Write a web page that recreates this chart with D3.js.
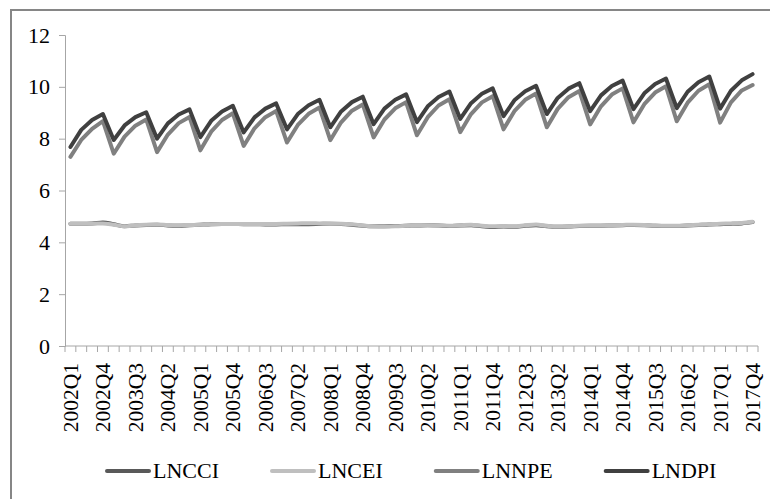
<!DOCTYPE html>
<html>
<head>
<meta charset="utf-8">
<script src="https://cdn.jsdelivr.net/npm/d3@7"></script>
<style>
  body { margin: 0; background: #fff; }
  text { font-family: "Liberation Serif", "Times New Roman", serif; fill: #000; }
</style>
</head>
<body>
<svg id="chart" width="770" height="499"></svg>
<script>
// data
const years = [2002, 2003, 2004, 2005, 2006, 2007, 2008, 2009, 2010, 2011, 2012, 2013, 2014, 2015, 2016, 2017];
const quarters = ["Q1", "Q2", "Q3", "Q4"];
const categories = years.flatMap(y => quarters.map(q => y + q));

const yTicks = [0, 2, 4, 6, 8, 10, 12];

const LNCCI = [
  4.72, 4.72, 4.73, 4.77,  4.70, 4.62, 4.65, 4.67,  4.68, 4.65, 4.64, 4.66,  4.68, 4.70, 4.71, 4.71,
  4.70, 4.70, 4.69, 4.69,  4.70, 4.70, 4.70, 4.71,  4.72, 4.71, 4.68, 4.64,  4.62, 4.62, 4.63, 4.64,
  4.65, 4.66, 4.65, 4.63,  4.65, 4.66, 4.62, 4.59,  4.61, 4.60, 4.64, 4.66,  4.62, 4.60, 4.61, 4.63,
  4.64, 4.64, 4.65, 4.66,  4.67, 4.66, 4.64, 4.63,  4.63, 4.65, 4.67, 4.69,  4.70, 4.71, 4.73, 4.78
];
const LNCEI = [
  4.72, 4.72, 4.72, 4.73,  4.68, 4.62, 4.66, 4.68,  4.69, 4.67, 4.66, 4.67,  4.68, 4.70, 4.71, 4.71,
  4.71, 4.71, 4.71, 4.71,  4.72, 4.73, 4.74, 4.73,  4.72, 4.72, 4.70, 4.65,  4.62, 4.61, 4.62, 4.64,
  4.66, 4.66, 4.65, 4.64,  4.66, 4.68, 4.64, 4.62,  4.63, 4.62, 4.66, 4.69,  4.64, 4.61, 4.62, 4.64,
  4.65, 4.65, 4.66, 4.67,  4.68, 4.67, 4.65, 4.64,  4.64, 4.66, 4.68, 4.70,  4.72, 4.73, 4.75, 4.79
];
const LNNPE = [
  7.30, 7.95, 8.38, 8.68,  7.42, 8.08, 8.50, 8.74,  7.48, 8.16, 8.60, 8.84,  7.55, 8.27, 8.72, 8.98,
  7.72, 8.40, 8.83, 9.07,  7.85, 8.53, 8.96, 9.20,  7.94, 8.63, 9.08, 9.32,  8.05, 8.74, 9.17, 9.41,
  8.13, 8.83, 9.28, 9.52,  8.25, 8.95, 9.40, 9.64,  8.36, 9.06, 9.50, 9.74,  8.44, 9.15, 9.60, 9.84,
  8.55, 9.25, 9.70, 9.94,  8.63, 9.33, 9.78, 10.02, 8.67, 9.39, 9.85, 10.10, 8.62, 9.40, 9.86, 10.07
];
const LNDPI = [
  7.68, 8.34, 8.72, 8.95,  7.95, 8.51, 8.83, 9.02,  8.00, 8.59, 8.93, 9.13,  8.06, 8.69, 9.05, 9.27,
  8.24, 8.82, 9.16, 9.36,  8.36, 8.95, 9.29, 9.50,  8.44, 9.05, 9.41, 9.62,  8.56, 9.16, 9.50, 9.71,
  8.64, 9.25, 9.61, 9.82,  8.76, 9.37, 9.73, 9.94,  8.87, 9.48, 9.83, 10.04, 8.95, 9.57, 9.93, 10.14,
  9.06, 9.67, 10.03, 10.24, 9.14, 9.75, 10.11, 10.32, 9.18, 9.81, 10.18, 10.40, 9.16, 9.85, 10.25, 10.49
];

const seriesNames = ["LNCCI", "LNCEI", "LNNPE", "LNDPI"];
const seriesValues = [LNCCI, LNCEI, LNNPE, LNDPI];
const seriesColors = ["#595959", "#bfbfbf", "#808080", "#404040"];

// layout
const svg = d3.select("#chart");
const plotLeft = 65, plotRight = 758, plotTop = 35, plotBottom = 346;

// outer frame
svg.append("rect")
    .attr("x", 11).attr("y", 10)
    .attr("width", 800).attr("height", 520)
    .attr("fill", "none")
    .attr("stroke", "#868686")
    .attr("stroke-width", 2);

const x = d3.scaleBand().domain(categories).range([plotLeft, plotRight]).padding(0);
const y = d3.scaleLinear().domain([0, 12]).range([plotBottom, plotTop]);

// y axis
const yAxis = svg.append("g")
    .attr("transform", "translate(" + plotLeft + ",0)")
    .call(d3.axisLeft(y).tickValues(yTicks).tickSize(6).tickPadding(9));
yAxis.select(".domain").attr("stroke", "#a6a6a6");
yAxis.selectAll(".tick line").attr("stroke", "#a6a6a6");
yAxis.selectAll(".tick text")
    .style("font-size", "22px")
    .style("font-family", "Liberation Serif, serif")
    .attr("fill", "#000");

// x axis: line, ticks at category edges, rotated labels
const xAxis = svg.append("g");
xAxis.append("line")
    .attr("x1", plotLeft).attr("x2", plotRight)
    .attr("y1", plotBottom).attr("y2", plotBottom)
    .attr("stroke", "#a6a6a6");

const edges = categories.map(c => x(c)).concat([x(categories[categories.length - 1]) + x.bandwidth()]);
xAxis.selectAll(".xtick")
    .data(edges)
    .join("line")
    .attr("class", "xtick")
    .attr("x1", d => d).attr("x2", d => d)
    .attr("y1", plotBottom).attr("y2", plotBottom + 6)
    .attr("stroke", "#a6a6a6");

xAxis.selectAll(".xlabel")
    .data(categories.filter((c, i) => i % 3 === 0))
    .join("text")
    .attr("class", "xlabel")
    .attr("transform", d => "translate(" + (x(d) + x.bandwidth() / 2) + "," + (plotBottom + 17) + ") rotate(-90)")
    .attr("text-anchor", "end")
    .attr("dy", "0.35em")
    .style("font-size", "21.5px")
    .text(d => d);

// lines
const straight = d3.line()
    .x((d, i) => x(categories[i]) + x.bandwidth() / 2)
    .y(d => y(d));
const smooth = d3.line()
    .curve(d3.curveMonotoneX)
    .x((d, i) => x(categories[i]) + x.bandwidth() / 2)
    .y(d => y(d));

seriesValues.forEach((vals, k) => {
    svg.append("path")
        .datum(vals)
        .attr("fill", "none")
        .attr("stroke", seriesColors[k])
        .attr("stroke-width", 4)
        .attr("stroke-linejoin", "round")
        .attr("stroke-linecap", "round")
        .attr("d", k < 2 ? smooth : straight);
});

// legend
const legend = svg.append("g").attr("transform", "translate(107, 471)");
let lx = 0;
seriesNames.forEach((name, k) => {
    const item = legend.append("g").attr("transform", "translate(" + lx + ",0)");
    item.append("line")
        .attr("x1", 0).attr("x2", 42)
        .attr("y1", 0).attr("y2", 0)
        .attr("stroke", seriesColors[k])
        .attr("stroke-width", 4)
        .attr("stroke-linecap", "round");
    const t = item.append("text")
        .attr("x", 46)
        .attr("y", 7)
        .style("font-size", "22px")
        .text(name);
    lx += 46 + t.node().getComputedTextLength() + 53;
});
</script>
</body>
</html>
